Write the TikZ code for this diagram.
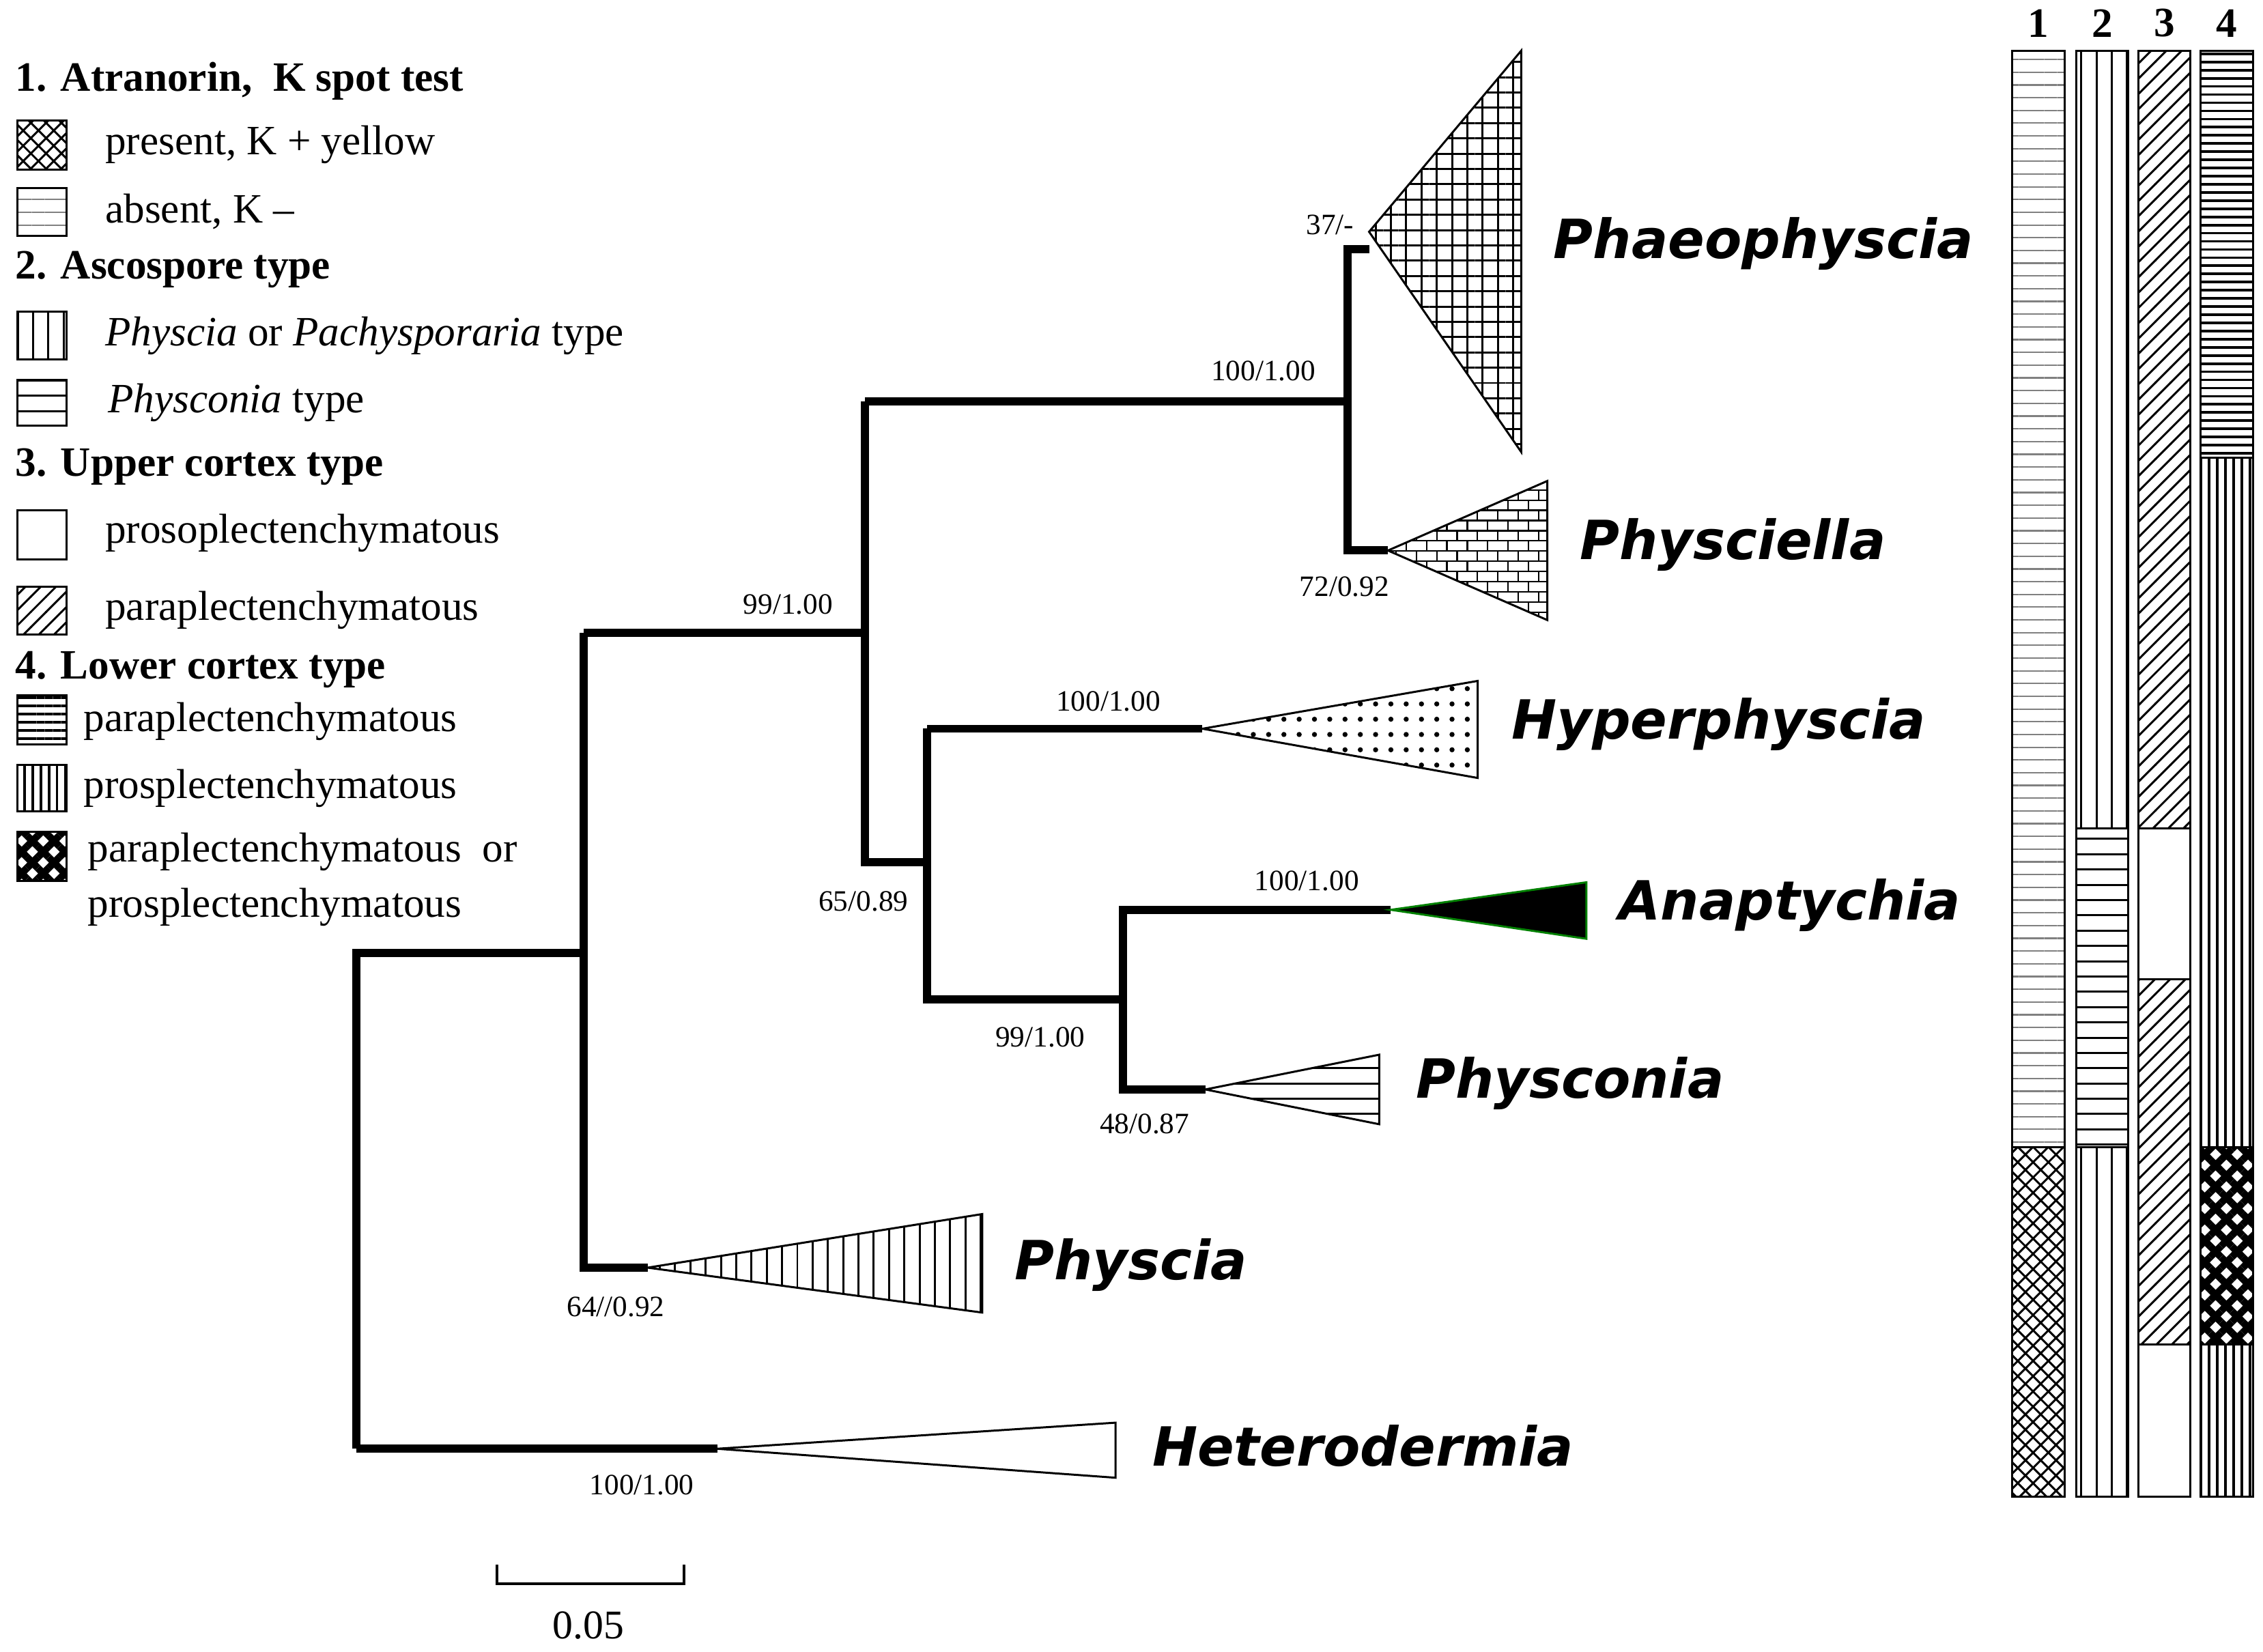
\documentclass[tikz,border=0pt]{standalone}
\usepackage{fontspec}
\setmainfont{Liberation Serif}
\newfontfamily\taxf{DejaVu Sans}
\usetikzlibrary{patterns,patterns.meta}
\pgfdeclarepatternformonly{sbricks}{\pgfqpoint{-0.5pt}{-0.5pt}}{\pgfqpoint{4.5pt}{4.5pt}}{\pgfqpoint{4pt}{4pt}}{%
 \pgfsetlinewidth{0.3pt}
 \pgfpathmoveto{\pgfqpoint{0pt}{0pt}}\pgfpathlineto{\pgfqpoint{4pt}{0pt}}
 \pgfpathmoveto{\pgfqpoint{0pt}{2pt}}\pgfpathlineto{\pgfqpoint{4pt}{2pt}}
 \pgfpathmoveto{\pgfqpoint{0pt}{0pt}}\pgfpathlineto{\pgfqpoint{0pt}{2pt}}
 \pgfpathmoveto{\pgfqpoint{2pt}{2pt}}\pgfpathlineto{\pgfqpoint{2pt}{4pt}}
 \pgfusepath{stroke}}
\tikzset{
 br/.style={line width=1.6pt},
 tax/.style={anchor=west,font=\taxf\bfseries\itshape\fontsize{10.6}{12}\selectfont},
 sup/.style={font=\fontsize{5.8}{7}\selectfont,inner sep=0pt},
 leg/.style={anchor=west,font=\fontsize{8.2}{10}\selectfont,inner sep=0pt},
 legh/.style={anchor=west,font=\bfseries\fontsize{8.2}{10}\selectfont,inner sep=0pt},
 tri/.style={draw,line width=0.4pt},
 bx/.style={draw,line width=0.4pt},
 dh/.style={pattern={Lines[angle=0,distance=1.6pt,line width=0.5pt]}},
 dv/.style={pattern={Lines[angle=90,distance=1.6pt,line width=0.5pt]}},
 darkfill/.style={fill=black!80,pattern={Dots[distance=1.6pt,radius=0.35pt]},pattern color=white},
 dashfill/.style={pattern={Lines[angle=0,distance=2.5pt,line width=0.3pt]},pattern color=gray},
 diam/.style={pattern={Hatch[angle=45,distance=3pt,line width=1.4pt]},pattern color=black}
}
\begin{document}
\begin{tikzpicture}[x=0.01cm,y=-0.01cm]
\useasboundingbox (0,0) rectangle (1562,1140);
% tree
\draw[br] (246,1000) -- (246,658) -- (403,658);
\draw[br] (403,437) -- (403,875) -- (447,875);
\draw[br] (403,437) -- (597,437);
\draw[br] (597,277) -- (597,595) -- (640,595);
\draw[br] (597,277) -- (930,277);
\draw[br] (945,172) -- (930,172) -- (930,380) -- (958,380);
\draw[br] (640,503) -- (640,690) -- (775,690);
\draw[br] (640,503) -- (830,503);
\draw[br] (960,628) -- (775,628) -- (775,752) -- (832,752);
\draw[br] (246,1000) -- (495,1000);
% triangles
\draw[tri,pattern={Lines[angle=0,distance=3pt,line width=0.4pt]},postaction={pattern={Lines[angle=90,distance=3pt,line width=0.4pt]}}] (945,160) -- (1050,35) -- (1050,312) -- cycle;
\draw[tri,pattern=sbricks] (958,380) -- (1068,332) -- (1068,428) -- cycle;
\draw[tri,pattern=dots] (830,503) -- (1020,470) -- (1020,537) -- cycle;
\draw[draw=green!50!black,fill=black] (960,628) -- (1095,609) -- (1095,648) -- cycle;
\draw[tri,pattern=horizontal lines] (832,752) -- (952,728) -- (952,776) -- cycle;
\draw[tri,pattern=vertical lines] (447,875) -- (678,838) -- (678,906) -- cycle;
\draw[tri,fill=white] (495,1000) -- (770,982) -- (770,1020) -- cycle;
% taxon labels
\node[tax] (t1) at (1060,168) {Phaeophyscia};
\node[tax] (t2) at (1078,376) {Physciella};
\node[tax] (t3) at (1031,500) {Hyperphyscia};
\node[tax] (t4) at (1105,625) {Anaptychia};
\node[tax] (t5) at (965,748) {Physconia};
\node[tax] (t6) at (688,873) {Physcia};
\node[tax] (t7) at (783,998) {Heterodermia};
% supports
\node[sup] at (918,155) {37/-};
\node[sup] at (872,256) {100/1.00};
\node[sup] at (928,405) {72/0.92};
\node[sup] at (544,417) {99/1.00};
\node[sup] at (765,484) {100/1.00};
\node[sup] at (596,622) {65/0.89};
\node[sup] at (902,608) {100/1.00};
\node[sup] at (718,716) {99/1.00};
\node[sup] at (790,776) {48/0.87};
\node[sup] at (425,902) {64//0.92};
\node[sup] at (443,1025) {100/1.00};
% scale
\draw[line width=0.5pt] (343,1080) -- (343,1093) -- (472,1093) -- (472,1080);
\node[sup,font=\fontsize{8}{9}\selectfont] at (406,1122) {0.05};
% bars
\draw[bx,dashfill] (1389,35) rectangle (1425,792);
\draw[bx,pattern=crosshatch] (1389,792) rectangle (1425,1033);
\draw[bx,pattern=vertical lines] (1433,35) rectangle (1469,572);
\draw[bx,pattern=horizontal lines] (1433,572) rectangle (1469,792);
\draw[bx,pattern=vertical lines] (1433,792) rectangle (1469,1033);
\draw[bx,pattern=north east lines] (1476,35) rectangle (1512,572);
\draw[bx,darkfill] (1476,572) rectangle (1512,676);
\draw[bx,pattern=north east lines] (1476,676) rectangle (1512,928);
\draw[bx,darkfill] (1476,928) rectangle (1512,1033);
\draw[bx,dh] (1519,35) rectangle (1555,316);
\draw[bx,dv] (1519,316) rectangle (1555,792);
\draw[bx,diam] (1519,792) rectangle (1555,928);
\draw[bx,dv] (1519,928) rectangle (1555,1033);
\foreach \x/\n in {1407/1,1451/2,1494/3,1537/4}
  \node[legh,anchor=center] at (\x,16) {\n};
% legend
\node[legh] at (10,56) {1. Atranorin,\ \ K spot test};
\draw[bx,pattern=crosshatch] (12,83) rectangle (46,117);
\node[leg] at (72,100) {present, K + yellow};
\draw[bx,dashfill] (12,130) rectangle (46,163);
\node[leg] at (72,146) {absent, K --};
\node[legh] at (10,186) {2. Ascospore type};
\draw[bx,pattern=vertical lines] (12,215) rectangle (46,248);
\node[leg] at (72,232) {\textit{Physcia} or \textit{Pachysporaria} type};
\draw[bx,pattern=horizontal lines] (12,262) rectangle (46,294);
\node[leg] at (74,278) {\textit{Physconia} type};
\node[legh] at (10,322) {3. Upper cortex type};
\draw[bx,darkfill] (12,352) rectangle (46,386);
\node[leg] at (72,368) {prosoplectenchymatous};
\draw[bx,pattern=north east lines] (12,405) rectangle (46,438);
\node[leg] at (72,421) {paraplectenchymatous};
\node[legh] at (10,462) {4. Lower cortex type};
\draw[bx,dh] (12,480) rectangle (46,514);
\node[leg] at (57,498) {paraplectenchymatous};
\draw[bx,dv] (12,528) rectangle (46,560);
\node[leg] at (57,544) {prosplectenchymatous};
\draw[bx,diam] (12,574) rectangle (46,608);
\node[leg] at (60,588) {paraplectenchymatous\ \ or};
\node[leg] at (60,626) {prosplectenchymatous};
\end{tikzpicture}
\end{document}
